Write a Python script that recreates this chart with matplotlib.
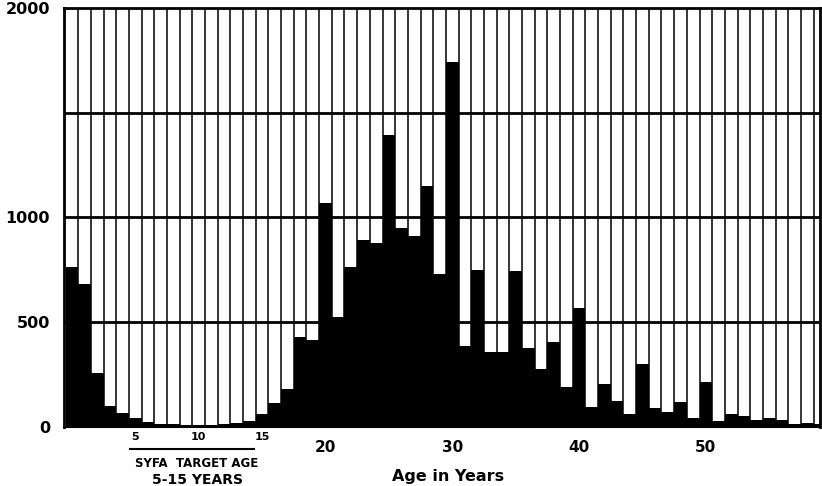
import numpy as np
import matplotlib.pyplot as plt

# number of cases by single year of age
ages = np.arange(0, 60)
cases = [764, 683, 258, 100, 67, 43, 24, 12, 12, 10,
         8, 10, 14, 19, 29, 62, 115, 183, 428, 413,
         1067, 524, 764, 894, 880, 1394, 952, 913, 1149, 731,
         1740, 385, 750, 356, 356, 745, 375, 279, 404, 192,
         567, 96, 207, 125, 62, 303, 91, 72, 120, 43,
         216, 29, 62, 53, 34, 43, 34, 14, 19, 15]

y_ticks = [0, 500, 1000, 2000]
grid_levels = [500, 1000, 1500]
small_ticks = [5, 10, 15]
big_ticks = [20, 30, 40, 50]

fig = plt.figure(figsize=(8.22, 4.86), dpi=100)
ax = fig.add_axes([64 / 822, 59 / 486, 756 / 822, 419 / 486])

# thin vertical rules between the year columns
for b in ages[1:]:
    ax.axvline(b - 0.5, color="black", linewidth=1.1, zorder=1)
for g in grid_levels:
    ax.axhline(g, color="black", linewidth=2.0, zorder=1)

ax.bar(ages, cases, width=1.0, color="black", linewidth=0, zorder=2)

ax.set_xlim(-0.62, 59.0)
ax.set_ylim(0, 2000)

ax.set_yticks(y_ticks)
ax.set_yticklabels([str(v) for v in y_ticks], fontsize=11.5, fontweight="bold")
ax.tick_params(axis="y", length=0, pad=10)
ax.set_xticks([])

for side in ["top", "left", "right"]:
    ax.spines[side].set_linewidth(2.0)
ax.spines["bottom"].set_linewidth(1.5)

tr = ax.get_xaxis_transform()
for t in small_ticks:
    ax.text(t, -0.024, str(t), transform=tr, ha="center", va="center",
            fontsize=8, fontweight="bold")
for t in big_ticks:
    ax.text(t, -0.05, str(t), transform=tr, ha="center", va="center",
            fontsize=11, fontweight="bold")

# bracket under the target age range
ax.plot([4.6, 14.4], [-0.0525, -0.0525], transform=tr, color="black",
        linewidth=1.5, clip_on=False)
ax.text(9.8, -0.088, "SYFA  TARGET AGE", transform=tr, ha="center",
        va="center", fontsize=8.5, fontweight="bold")
ax.text(9.9, -0.126, "5-15 YEARS", transform=tr, ha="center",
        va="center", fontsize=10, fontweight="bold")
ax.text(29.7, -0.117, "Age in Years", transform=tr, ha="center",
        va="center", fontsize=11.5, fontweight="bold")

fig.savefig("out.png", dpi=100)
